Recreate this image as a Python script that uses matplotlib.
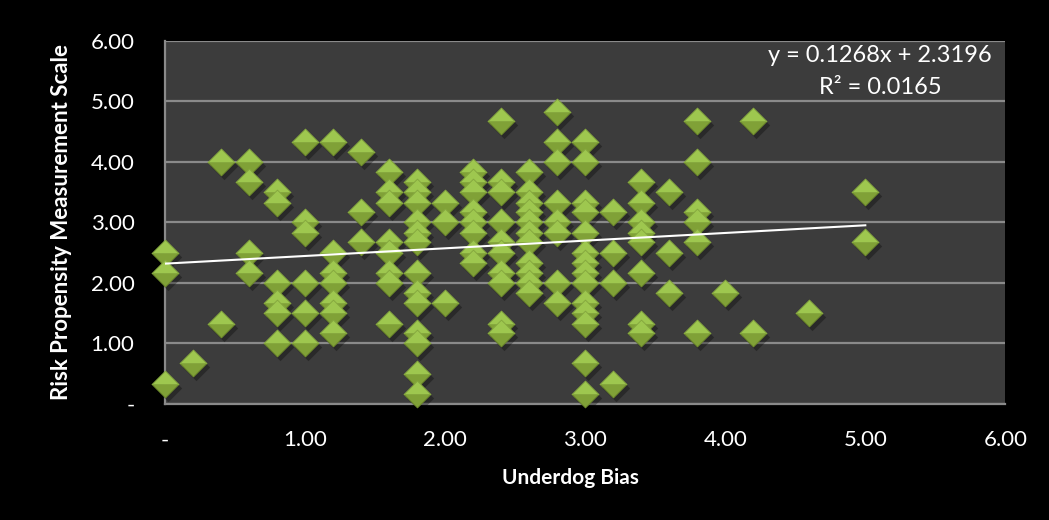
import numpy as np
import matplotlib
matplotlib.use("Agg")
import matplotlib.pyplot as plt
import matplotlib.transforms as mtransforms
from matplotlib.path import Path

# values (one line per underdog-bias column)
underdog_bias = (
    [0.0] * 3 + [0.2] * 1 + [0.4] * 2 + [0.6] * 4 + [0.8] * 6 + [1.0] * 6 +
    [1.2] * 7 + [1.4] * 3 + [1.6] * 8 + [1.8] * 13 + [2.0] * 3 + [2.2] * 8 +
    [2.4] * 10 + [2.6] * 11 + [2.8] * 8 + [3.0] * 14 + [3.2] * 4 + [3.4] * 8 +
    [3.6] * 3 + [3.8] * 6 + [4.0] * 1 + [4.2] * 2 + [4.6] * 1 + [5.0] * 2
)
risk_propensity = [
    2.50, 2.17, 0.33,
    0.67,
    4.00, 1.33,
    4.00, 3.67, 2.50, 2.17,
    3.50, 3.33, 2.00, 1.67, 1.50, 1.00,
    4.33, 3.00, 2.83, 2.00, 1.50, 1.00,
    4.33, 2.50, 2.17, 2.00, 1.67, 1.50, 1.17,
    4.17, 3.17, 2.67,
    3.83, 3.50, 3.33, 2.67, 2.50, 2.17, 2.00, 1.33,
    3.67, 3.50, 3.33, 3.00, 2.83, 2.67, 2.17, 1.83, 1.67, 1.17, 1.00, 0.50, 0.17,
    3.33, 3.00, 1.67,
    3.83, 3.67, 3.50, 3.17, 3.00, 2.83, 2.50, 2.33,
    4.67, 3.67, 3.50, 3.00, 2.67, 2.50, 2.17, 2.00, 1.33, 1.17,
    3.83, 3.50, 3.33, 3.17, 3.00, 2.83, 2.67, 2.33, 2.17, 2.00, 1.83,
    4.83, 4.33, 4.00, 3.33, 3.00, 2.83, 2.00, 1.67,
    4.33, 4.00, 3.33, 3.17, 2.83, 2.50, 2.33, 2.17, 2.00, 1.67, 1.50, 1.33, 0.67, 0.17,
    3.17, 2.50, 2.00, 0.33,
    3.67, 3.33, 3.00, 2.83, 2.67, 2.17, 1.33, 1.17,
    3.50, 2.50, 1.83,
    4.67, 4.00, 3.17, 3.00, 2.67, 1.17,
    1.83,
    4.67, 1.17,
    1.50,
    3.50, 2.67,
]

# trendline as printed on the chart
slope, intercept = 0.1268, 2.3196
r_squared = 0.0165
tick_vals = [0, 1, 2, 3, 4, 5, 6]
tick_labels = ["-", "1.00", "2.00", "3.00", "4.00", "5.00", "6.00"]

x = np.array(underdog_bias)
y = np.array(risk_propensity)

plt.rcParams["xtick.major.pad"] = 19
plt.rcParams["ytick.major.pad"] = 22
plt.rcParams["xtick.major.size"] = 0
plt.rcParams["ytick.major.size"] = 0

fig = plt.figure(figsize=(10.49, 5.20), dpi=100, facecolor="black")
ax = fig.add_axes([0.1573, 0.2231, 0.8011, 0.6981])
ax.set_facecolor("#3c3c3c")

grid_c = "#8a8a8a"
ax.set_xlim(0, 6)
ax.set_ylim(0, 6)
ax.set_xticks(tick_vals)
ax.set_yticks(tick_vals)
ax.yaxis.grid(True, color=grid_c, lw=1.6)
ax.set_axisbelow(True)
for s in ["top", "right"]:
    ax.spines[s].set_visible(False)
for s in ["left", "bottom"]:
    ax.spines[s].set_color(grid_c)
    ax.spines[s].set_linewidth(1.6)

font = ["Lato", "DejaVu Sans"]
ax.set_xticklabels(tick_labels, color="white", fontsize=16, family=font)
ax.set_yticklabels(tick_labels, color="white", fontsize=16, family=font)
fig.text(570 / 1049, 1 - 478 / 520, "Underdog Bias", color="white", fontsize=15,
         fontweight="bold", family=font, ha="center", va="center")
fig.text(62 / 1049, 1 - 222 / 520, "Risk Propensity Measurement Scale",
         color="white", fontsize=16, fontweight="bold", family=font,
         rotation=90, ha="center", va="center")

# bevelled diamond markers: soft shadow, darker lower half, lighter upper half
full = Path([(-1, 0), (0, 1), (1, 0), (0, -1), (-1, 0)],
            [Path.MOVETO, Path.LINETO, Path.LINETO, Path.LINETO, Path.CLOSEPOLY])
top_half = Path([(-1, 0), (0, 1), (1, 0), (-1, 0)],
                [Path.MOVETO, Path.LINETO, Path.LINETO, Path.CLOSEPOLY])
low_half = Path([(-1, 0), (0, -1), (1, 0), (-1, 0)],
                [Path.MOVETO, Path.LINETO, Path.LINETO, Path.CLOSEPOLY])
size = 370
shadow_tr = mtransforms.offset_copy(ax.transData, fig=fig, x=3, y=-4, units="dots")
ax.scatter(x, y, s=size * 1.05, marker=full, color="black", alpha=0.3,
           transform=shadow_tr, linewidths=0, zorder=3, clip_on=False)
ax.scatter(x, y, s=size, marker=low_half, color="#80a137", edgecolors="#6f8c2c",
           linewidths=0.7, zorder=4, clip_on=False)
ax.scatter(x, y, s=size, marker=top_half, color="#9ec74f", edgecolors="#86a93f",
           linewidths=0.7, zorder=4, clip_on=False)

# linear trendline
xl = np.array([x.min(), x.max()])
ax.plot(xl, slope * xl + intercept, color="white", lw=1.5, zorder=5)

eq_x = 880 / 1049
fig.text(eq_x, 1 - 55 / 520, "y = %.4fx + %.4f" % (slope, intercept),
         color="white", fontsize=17, family=font, ha="center", va="center")
fig.text(eq_x, 1 - 87 / 520, "R² = %.4f" % r_squared,
         color="white", fontsize=17, family=font, ha="center", va="center")

fig.savefig("out.png", dpi=100, facecolor="black")
